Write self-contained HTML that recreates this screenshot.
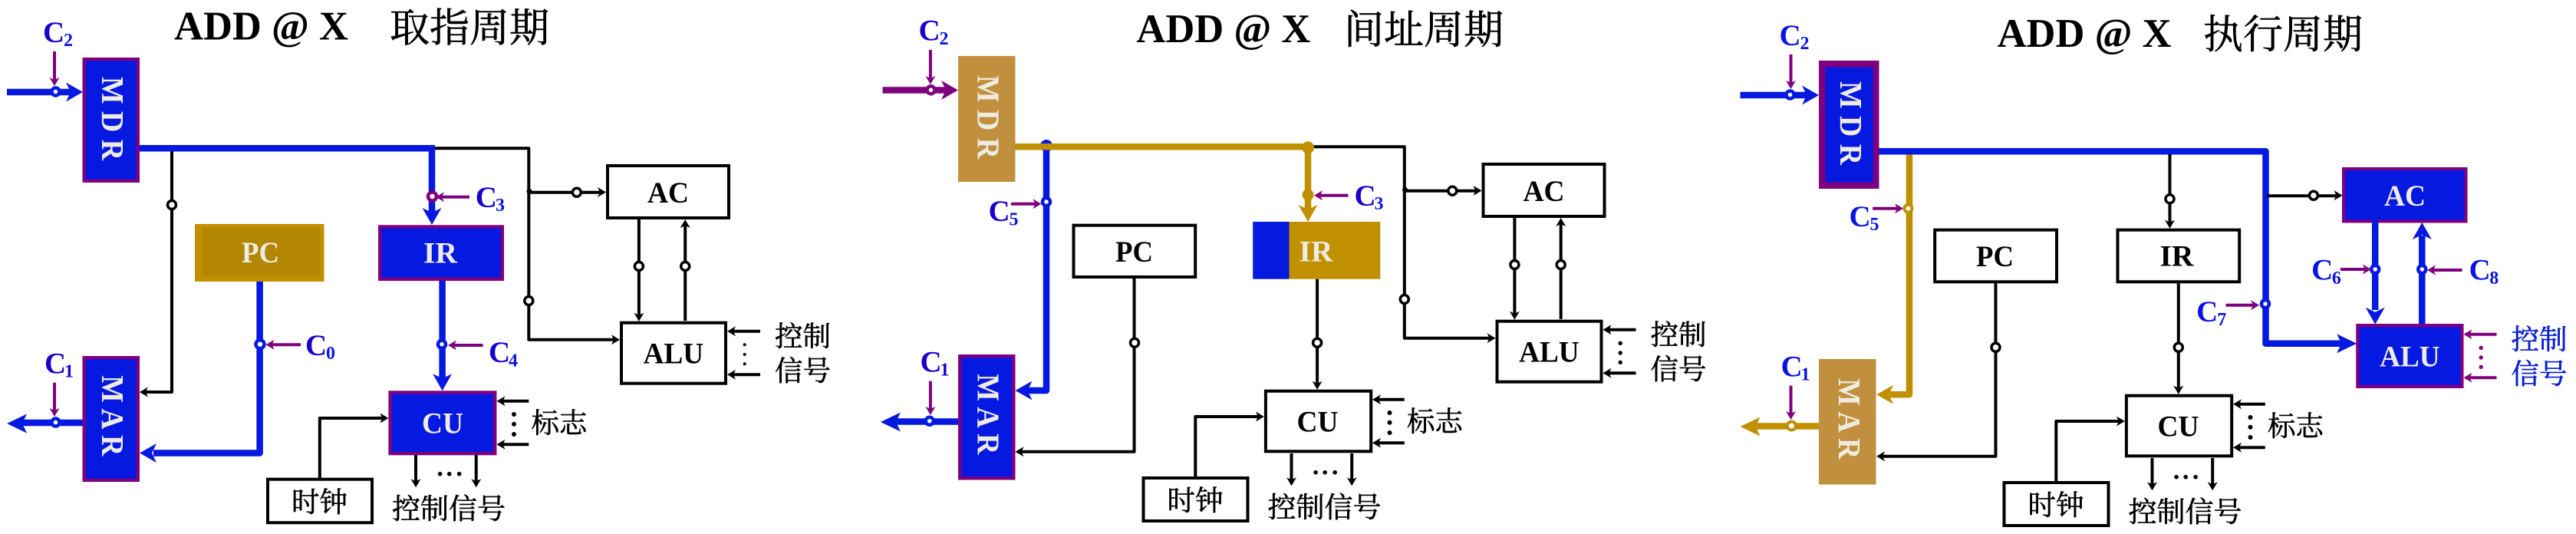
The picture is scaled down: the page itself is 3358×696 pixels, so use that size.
<!DOCTYPE html>
<html><head><meta charset="utf-8"><title>ADD @ X</title>
<style>
html,body{margin:0;padding:0;background:#fff}
svg{display:block}
.t{font-family:"Liberation Serif",serif;font-weight:bold}
.z{font-family:"Liberation Serif","Noto Serif CJK SC",serif;stroke:#000;stroke-width:.6}
.zb{stroke:#0a20d0}
.l{font-size:39px}.u{font-size:24px}
.w{fill:#eeece1}
.k{fill:none;stroke:#000;stroke-width:4;stroke-linejoin:round}
.b{fill:none;stroke:#0519e0;stroke-width:8.5;stroke-linejoin:round}
.g{fill:none;stroke:#c09000;stroke-width:8.5;stroke-linejoin:round}
.p{fill:none;stroke:#7f007f;stroke-width:4}
.m{fill:none;stroke:#7f007f;stroke-width:8.5}
.n{fill:#fff;stroke:#000;stroke-width:3.5}
.nb{fill:#fff;stroke:#0519e0;stroke-width:4.5}
.ng{fill:#fff;stroke:#c09000;stroke-width:4}
.np{fill:#fff;stroke:#7f007f;stroke-width:4.5}
.c1{fill:#1600cc}.c2{fill:#0a14e0}
</style></head><body>
<svg xmlns="http://www.w3.org/2000/svg" width="3358" height="696" viewBox="0 0 3358 696">
<defs>
<path id="s" d="M0,0 L-11,-6.5 L-8,0 L-11,6.5Z"/>
<path id="A" d="M0,0 L-22,-12.5 L-16,0 L-22,12.5Z"/>
<path id="B" d="M0,0 L-26,-12.5 L-20,0 L-26,12.5Z"/>
</defs>
<rect width="3358" height="696" fill="#fff"/>

<!-- titles -->
<text class="t" x="227" y="51.7" font-size="53" textLength="227" lengthAdjust="spacingAndGlyphs">ADD @ X</text>
<text class="z" x="508" y="54.5" font-size="52">取指周期</text>
<text class="t" x="1481.4" y="55" font-size="53" textLength="227" lengthAdjust="spacingAndGlyphs">ADD @ X</text>
<text class="z" x="1752" y="57" font-size="52">间址周期</text>
<text class="t" x="2603.6" y="61" font-size="53" textLength="227" lengthAdjust="spacingAndGlyphs">ADD @ X</text>
<text class="z" x="2872" y="63" font-size="52">执行周期</text>

<!-- PANEL 1 -->
<g>
<path class="b" d="M9,120H100"/>
<use href="#A" transform="translate(108,120)" fill="#0519e0"/>
<path class="b" d="M182,193.3H567"/>
<path class="k" d="M567,193.3H689.3V442.7H800"/>
<path class="k" d="M224,197V511H188"/>
<use href="#s" transform="translate(182,511) rotate(180)"/>
<circle class="n" cx="224" cy="267" r="5.5"/>
<path class="b" d="M563,193V280"/>
<use href="#A" transform="translate(563,293) rotate(90)" fill="#0519e0"/>
<circle class="np" cx="563.5" cy="256" r="5.5"/>
<path class="p" d="M612,256.7H574"/>
<use href="#s" transform="translate(568,256.7) rotate(180)" fill="#7f007f"/>
<!-- PC -->
<rect x="254" y="292" width="168.5" height="75" fill="#c09000"/>
<rect x="263.5" y="297" width="153.5" height="62" fill="#b38600"/>
<text class="t w" x="315" y="342" font-size="39" textLength="49" lengthAdjust="spacingAndGlyphs">PC</text>
<path class="b" d="M338.6,367V590.5H200"/>
<use href="#A" transform="translate(182,590.5) rotate(180)" fill="#0519e0"/>
<circle class="nb" cx="339" cy="448.7" r="5.5"/>
<path class="p" d="M392,449.3H352"/>
<use href="#s" transform="translate(346.5,449.3) rotate(180)" fill="#7f007f"/>
<!-- MDR MAR -->
<rect x="107.5" y="75" width="74.5" height="163" fill="#7f007f"/><rect x="112" y="79.3" width="65.5" height="154.4" fill="#0519e0"/>
<text class="t w" transform="translate(133,100) rotate(90)" font-size="41" textLength="109" lengthAdjust="spacingAndGlyphs">M D R</text>
<rect x="107.5" y="464" width="74.5" height="164" fill="#7f007f"/><rect x="112" y="468.3" width="65.5" height="155.4" fill="#0519e0"/>
<text class="t w" transform="translate(133,489.3) rotate(90)" font-size="41" textLength="105" lengthAdjust="spacingAndGlyphs">M A R</text>
<circle class="nb" cx="72.5" cy="119.5" r="5"/>
<path class="p" d="M71,67V106"/><use href="#s" transform="translate(71,112) rotate(90)" fill="#7f007f"/>
<path class="b" d="M108,551H28"/>
<use href="#B" transform="translate(9,552) rotate(180)" fill="#0519e0"/>
<circle class="nb" cx="72.5" cy="550.5" r="5"/>
<path class="p" d="M71,498.7V537"/><use href="#s" transform="translate(71,543) rotate(90)" fill="#7f007f"/>
<text class="t l c1" x="56" y="55">C</text><text class="t u c2" x="83" y="60">2</text>
<text class="t l c1" x="58" y="486.7">C</text><text class="t u c1" x="84" y="491.7">1</text>
<text class="t l c1" x="398" y="463">C</text><text class="t u c2" x="425" y="468">0</text>
<text class="t l c1" x="619.7" y="270">C</text><text class="t u c2" x="646" y="275">3</text>
<text class="t l c1" x="637" y="472">C</text><text class="t u c2" x="663" y="477.7">4</text>
<!-- IR -->
<rect x="493" y="293.3" width="164" height="72.7" fill="#7f007f"/><rect x="497.3" y="297.6" width="155.4" height="64" fill="#0519e0"/>
<text class="t w" x="552" y="342.7" font-size="39" textLength="44" lengthAdjust="spacingAndGlyphs">IR</text>
<path class="b" d="M576.6,366V495"/>
<circle class="nb" cx="576" cy="448.7" r="5"/>
<path class="p" d="M629.6,450H590"/>
<use href="#s" transform="translate(584,450) rotate(180)" fill="#7f007f"/>
<!-- CU -->
<rect x="506.4" y="509.3" width="141" height="84" fill="#7f007f"/><rect x="511" y="513.6" width="132" height="75.4" fill="#0519e0"/>
<use href="#A" transform="translate(576.6,509.3) rotate(90)" fill="#0519e0"/>
<text class="t w" x="550" y="564.5" font-size="39" textLength="54" lengthAdjust="spacingAndGlyphs">CU</text>
<path class="k" d="M416.8,623V545H500"/><use href="#s" transform="translate(506.4,545)"/>
<rect x="349" y="624.7" width="136" height="56.5" fill="#fff" stroke="#000" stroke-width="4"/>
<text class="z" x="380" y="667" font-size="36.5">时钟</text>
<path class="k" d="M689.3,522.7H652"/><use href="#s" transform="translate(647.5,522.7) rotate(180)"/>
<path class="k" d="M689.3,579.3H652"/><use href="#s" transform="translate(647.5,579.3) rotate(180)"/>
<circle cx="670" cy="540" r="3"/><circle cx="670" cy="552.7" r="3"/><circle cx="670" cy="566" r="3"/>
<text class="z" x="692.5" y="564" font-size="36.5">标志</text>
<path class="k" d="M542,593V630"/><use href="#s" transform="translate(542,635.3) rotate(90)"/>
<path class="k" d="M620.7,593V630"/><use href="#s" transform="translate(620.7,635.3) rotate(90)"/>
<circle cx="573.6" cy="617.7" r="2.8"/><circle cx="585.7" cy="617.7" r="2.8"/><circle cx="598.6" cy="617.7" r="2.8"/>
<text class="z" x="511" y="676" font-size="37">控制信号</text>
<!-- AC ALU -->
<circle cx="690" cy="249.3" r="3.5"/>
<path class="k" d="M690,250.7H785"/><use href="#s" transform="translate(790,250.5)"/>
<circle class="n" cx="751.8" cy="250.7" r="5.5"/>
<circle class="n" cx="689.3" cy="392" r="5.5"/>
<use href="#s" transform="translate(808,442.7)"/>
<rect x="792" y="216" width="158" height="68" fill="#fff" stroke="#000" stroke-width="4"/>
<text class="t" x="844" y="264" font-size="39" textLength="54" lengthAdjust="spacingAndGlyphs">AC</text>
<path class="k" d="M832.9,286V413"/><use href="#s" transform="translate(832.9,418.7) rotate(90)"/>
<path class="k" d="M893.2,418V292"/><use href="#s" transform="translate(893.2,286) rotate(-90)"/>
<circle class="n" cx="832.9" cy="347" r="5.5"/><circle class="n" cx="893.2" cy="347" r="5.5"/>
<rect x="810" y="420.7" width="136" height="79" fill="#fff" stroke="#000" stroke-width="4"/>
<text class="t" x="838.6" y="473.7" font-size="39" textLength="78.5" lengthAdjust="spacingAndGlyphs">ALU</text>
<path class="k" d="M991,431.7H953"/><use href="#s" transform="translate(948,431.7) rotate(180)"/>
<path class="k" d="M991,488.3H953"/><use href="#s" transform="translate(948,488.3) rotate(180)"/>
<circle cx="970.7" cy="449.3" r="2"/><circle cx="970.7" cy="462" r="2"/><circle cx="970.7" cy="474.3" r="2"/>
<text class="z" x="1010" y="451" font-size="36.5">控制</text>
<text class="z" x="1010" y="496" font-size="36.5">信号</text>
</g>

<!-- PANEL 2 -->
<g transform="translate(1141.5,-2)">
<path class="m" d="M9,119.5H100"/>
<use href="#A" transform="translate(107.5,119.5)" fill="#7f007f"/>
<path class="b" d="M222.5,196V511H196"/>
<circle cx="222.5" cy="192" r="8" fill="#0519e0"/>
<use href="#A" transform="translate(182,511) rotate(180)" fill="#0519e0"/>
<path class="g" d="M182,193.3H565"/>
<path class="k" d="M567,193.3H689.3V442.7H800"/>
<path class="g" d="M563.5,193V278"/>
<circle cx="563.5" cy="194.3" r="8" fill="#c09000"/>
<circle cx="563.5" cy="256" r="7.5" fill="#c09000"/>
<use href="#A" transform="translate(563.5,291) rotate(90)" fill="#c09000"/>
<path class="p" d="M616,256.7H578"/>
<use href="#s" transform="translate(571.5,256.7) rotate(180)" fill="#7f007f"/>
<circle class="nb" cx="222.5" cy="265" r="5"/>
<path class="p" d="M176.5,267.7H210"/><use href="#s" transform="translate(216,267.7)" fill="#7f007f"/>
<!-- PC -->
<rect x="258" y="295.7" width="158.7" height="67.3" fill="#fff" stroke="#000" stroke-width="4"/>
<text class="t" x="312.5" y="343" font-size="39" textLength="49" lengthAdjust="spacingAndGlyphs">PC</text>
<path class="k" d="M337,365V590.7H187"/>
<use href="#s" transform="translate(182,590.7) rotate(180)"/>
<circle class="n" cx="337.5" cy="448.7" r="5.5"/>
<!-- MDR MAR -->
<rect x="107.5" y="75" width="74.5" height="164" fill="#c1903e"/>
<text class="t w" transform="translate(133,100) rotate(90)" font-size="41" textLength="109" lengthAdjust="spacingAndGlyphs">M D R</text>
<rect x="107.5" y="464" width="74.5" height="163.5" fill="#7f007f"/><rect x="112" y="468.3" width="65.5" height="155" fill="#0519e0"/>
<text class="t w" transform="translate(133,489.3) rotate(90)" font-size="41" textLength="105" lengthAdjust="spacingAndGlyphs">M A R</text>
<circle class="np" cx="72" cy="119.3" r="5"/>
<path class="p" d="M71.4,67V106"/><use href="#s" transform="translate(71.4,112) rotate(90)" fill="#7f007f"/>
<path class="b" d="M107.5,551.5H26"/>
<use href="#B" transform="translate(6.4,552) rotate(180)" fill="#0519e0"/>
<circle class="nb" cx="70.3" cy="550.7" r="5"/>
<path class="p" d="M71.4,498.7V537"/><use href="#s" transform="translate(71.4,543) rotate(90)" fill="#7f007f"/>
<text class="t l c1" x="56" y="54.3">C</text><text class="t u c2" x="83" y="60">2</text>
<text class="t l c1" x="58" y="486.7">C</text><text class="t u c1" x="84" y="491.7">1</text>
<text class="t l c1" x="147" y="290">C</text><text class="t u c2" x="174" y="295.3">5</text>
<text class="t l c1" x="624" y="270">C</text><text class="t u c2" x="650" y="275">3</text>
<!-- IR -->
<rect x="491.7" y="291" width="47.3" height="74.7" fill="#0519e0"/>
<rect x="539" y="291" width="118.8" height="74.7" fill="#c09000"/>
<text class="t w" x="552" y="342.7" font-size="39" textLength="44" lengthAdjust="spacingAndGlyphs">IR</text>
<path class="k" d="M575.6,365.7V503"/>
<use href="#s" transform="translate(575.6,509.7) rotate(90)"/>
<circle class="n" cx="575.6" cy="448.7" r="5.5"/>
<!-- CU -->
<rect x="508.4" y="511.7" width="137.3" height="78.6" fill="#fff" stroke="#000" stroke-width="4"/>
<text class="t" x="549" y="564.7" font-size="39" textLength="54" lengthAdjust="spacingAndGlyphs">CU</text>
<path class="k" d="M416.8,623V545H500"/><use href="#s" transform="translate(506.4,545)"/>
<rect x="349" y="625" width="136" height="56" fill="#fff" stroke="#000" stroke-width="4"/>
<text class="z" x="380" y="667" font-size="36.5">时钟</text>
<path class="k" d="M689.3,522.7H652"/><use href="#s" transform="translate(647.5,522.7) rotate(180)"/>
<path class="k" d="M689.3,579.3H652"/><use href="#s" transform="translate(647.5,579.3) rotate(180)"/>
<circle cx="670" cy="540" r="3"/><circle cx="670" cy="552.7" r="3"/><circle cx="670" cy="566" r="3"/>
<text class="z" x="692.5" y="564" font-size="36.5">标志</text>
<path class="k" d="M542,593V630"/><use href="#s" transform="translate(542,635.3) rotate(90)"/>
<path class="k" d="M620.7,593V630"/><use href="#s" transform="translate(620.7,635.3) rotate(90)"/>
<circle cx="573.6" cy="617.7" r="2.8"/><circle cx="585.7" cy="617.7" r="2.8"/><circle cx="598.6" cy="617.7" r="2.8"/>
<text class="z" x="511" y="676" font-size="37">控制信号</text>
<!-- AC ALU -->
<circle cx="690" cy="249.3" r="3.5"/>
<path class="k" d="M690,250.7H785"/><use href="#s" transform="translate(790,250.5)"/>
<circle class="n" cx="751.8" cy="250.7" r="5.5"/>
<circle class="n" cx="689.3" cy="392" r="5.5"/>
<use href="#s" transform="translate(808,442.7)"/>
<rect x="792" y="216" width="158" height="68" fill="#fff" stroke="#000" stroke-width="4"/>
<text class="t" x="844" y="264" font-size="39" textLength="54" lengthAdjust="spacingAndGlyphs">AC</text>
<path class="k" d="M832.9,286V413"/><use href="#s" transform="translate(832.9,418.7) rotate(90)"/>
<path class="k" d="M893.2,418V292"/><use href="#s" transform="translate(893.2,286) rotate(-90)"/>
<circle class="n" cx="832.9" cy="347" r="5.5"/><circle class="n" cx="893.2" cy="347" r="5.5"/>
<rect x="810" y="420.7" width="136" height="79" fill="#fff" stroke="#000" stroke-width="4"/>
<text class="t" x="838.6" y="473.7" font-size="39" textLength="78.5" lengthAdjust="spacingAndGlyphs">ALU</text>
<path class="k" d="M991,431.7H953"/><use href="#s" transform="translate(948,431.7) rotate(180)"/>
<path class="k" d="M991,488.3H953"/><use href="#s" transform="translate(948,488.3) rotate(180)"/>
<circle cx="970.7" cy="449.3" r="2.7"/><circle cx="970.7" cy="462" r="2.7"/><circle cx="970.7" cy="474.3" r="2.7"/>
<text class="z" x="1010" y="451" font-size="36.5">控制</text>
<text class="z" x="1010" y="496" font-size="36.5">信号</text>
</g>

<!-- PANEL 3 -->
<g transform="translate(2263.5,4)">
<path class="b" d="M5,120H100"/>
<use href="#A" transform="translate(107.6,120)" fill="#0519e0"/>
<path class="g" d="M225.5,193V510.3H196"/>
<use href="#A" transform="translate(182.6,510.3) rotate(180)" fill="#c09000"/>
<path class="b" d="M182,193.3H690V443.7H790"/>
<use href="#B" transform="translate(808.7,443.7)" fill="#0519e0"/>
<circle class="ng" cx="224" cy="267.7" r="5"/>
<path class="p" d="M177.6,267.7H211"/><use href="#s" transform="translate(217.6,267.7)" fill="#7f007f"/>
<path class="k" d="M565,197V288"/><use href="#s" transform="translate(565,293.7) rotate(90)"/>
<circle class="n" cx="565" cy="255.3" r="5.5"/>
<circle class="nb" cx="689.5" cy="392" r="5"/>
<path class="p" d="M638,393.7H675"/><use href="#s" transform="translate(681.6,393.7)" fill="#7f007f"/>
<!-- PC -->
<rect x="258.7" y="295.7" width="158.8" height="67.6" fill="#fff" stroke="#000" stroke-width="4"/>
<text class="t" x="312.5" y="343" font-size="39" textLength="49" lengthAdjust="spacingAndGlyphs">PC</text>
<path class="k" d="M338,365V590.7H187"/>
<use href="#s" transform="translate(182.6,590.7) rotate(180)"/>
<circle class="n" cx="338" cy="448.7" r="5.5"/>
<!-- MDR MAR -->
<rect x="107.5" y="75" width="78.5" height="167" fill="#7f007f"/>
<rect x="115.8" y="83.7" width="62.5" height="150" fill="#0519e0"/>
<text class="t w" transform="translate(135.5,102) rotate(90)" font-size="41" textLength="109" lengthAdjust="spacingAndGlyphs">M D R</text>
<rect x="107.5" y="464" width="74.5" height="163.5" fill="#c1903e"/>
<text class="t w" transform="translate(133.6,489.3) rotate(90)" font-size="41" textLength="105" lengthAdjust="spacingAndGlyphs">M A R</text>
<circle class="nb" cx="70" cy="119.5" r="5"/>
<path class="p" d="M71,67V106"/><use href="#s" transform="translate(71,112) rotate(90)" fill="#7f007f"/>
<path class="g" d="M107.5,551.5H25"/>
<use href="#B" transform="translate(5,552) rotate(180)" fill="#c09000"/>
<circle class="ng" cx="71.9" cy="551" r="5.5"/>
<path class="p" d="M71,498.7V537"/><use href="#s" transform="translate(71,543) rotate(90)" fill="#7f007f"/>
<text class="t l c2" x="56" y="55">C</text><text class="t u c2" x="83" y="60">2</text>
<text class="t l c2" x="58" y="486.7">C</text><text class="t u c2" x="84" y="491.7">1</text>
<text class="t l c2" x="147" y="291">C</text><text class="t u c2" x="174" y="296">5</text>
<text class="t l c2" x="599.6" y="415">C</text><text class="t u c2" x="626.7" y="420">7</text>
<text class="t l c2" x="749.6" y="360.3">C</text><text class="t u c2" x="776.4" y="366">6</text>
<text class="t l c2" x="955" y="360.3">C</text><text class="t u c2" x="981.7" y="366">8</text>
<!-- IR -->
<rect x="497" y="295.7" width="158.7" height="67.6" fill="#fff" stroke="#000" stroke-width="4"/>
<text class="t" x="552" y="342.7" font-size="39" textLength="44" lengthAdjust="spacingAndGlyphs">IR</text>
<path class="k" d="M576.3,365.3V503"/>
<use href="#s" transform="translate(576.3,509.7) rotate(90)"/>
<circle class="n" cx="576.3" cy="448.7" r="5.5"/>
<!-- CU -->
<rect x="508.4" y="511.7" width="137.3" height="78.6" fill="#fff" stroke="#000" stroke-width="4"/>
<text class="t" x="549" y="564.7" font-size="39" textLength="54" lengthAdjust="spacingAndGlyphs">CU</text>
<path class="k" d="M416.8,623V545H500"/><use href="#s" transform="translate(506.4,545)"/>
<rect x="349" y="625" width="136" height="56" fill="#fff" stroke="#000" stroke-width="4"/>
<text class="z" x="380" y="667" font-size="36.5">时钟</text>
<path class="k" d="M689.3,522.7H652"/><use href="#s" transform="translate(647.5,522.7) rotate(180)"/>
<path class="k" d="M689.3,579.3H652"/><use href="#s" transform="translate(647.5,579.3) rotate(180)"/>
<circle cx="670" cy="540" r="3"/><circle cx="670" cy="552.7" r="3"/><circle cx="670" cy="566" r="3"/>
<text class="z" x="692.5" y="564" font-size="36.5">标志</text>
<path class="k" d="M542,593V630"/><use href="#s" transform="translate(542,635.3) rotate(90)"/>
<path class="k" d="M620.7,593V630"/><use href="#s" transform="translate(620.7,635.3) rotate(90)"/>
<circle cx="573.6" cy="617.7" r="2.8"/><circle cx="585.7" cy="617.7" r="2.8"/><circle cx="598.6" cy="617.7" r="2.8"/>
<text class="z" x="511" y="676" font-size="37">控制信号</text>
<!-- AC ALU -->
<path class="k" d="M692,251.3H785"/><use href="#s" transform="translate(790,250.7)"/>
<circle class="n" cx="752.4" cy="250.7" r="5.5"/>
<rect x="789.5" y="214" width="163.5" height="72.5" fill="#7f007f"/><rect x="793.7" y="218" width="155" height="64.5" fill="#0519e0"/>
<text class="t w" x="844.5" y="264" font-size="39" textLength="54" lengthAdjust="spacingAndGlyphs">AC</text>
<path class="b" d="M832.7,283V400"/><use href="#A" transform="translate(832.7,418.7) rotate(90)" fill="#0519e0"/>
<path class="b" d="M893.8,420V303"/><use href="#A" transform="translate(893.8,286) rotate(-90)" fill="#0519e0"/>
<circle class="nb" cx="832.7" cy="347" r="5"/><circle class="nb" cx="893.8" cy="347" r="5"/>
<path class="p" d="M787.4,347H821"/><use href="#s" transform="translate(827.4,347)" fill="#7f007f"/>
<path class="p" d="M946,348H907"/><use href="#s" transform="translate(900.6,348) rotate(180)" fill="#7f007f"/>
<rect x="807.7" y="418" width="140.3" height="84" fill="#7f007f"/><rect x="812" y="422.3" width="131.7" height="75.4" fill="#0519e0"/>
<text class="t w" x="838.6" y="473.7" font-size="39" textLength="78.5" lengthAdjust="spacingAndGlyphs">ALU</text>
<path class="p" d="M991,431.7H953"/><use href="#s" transform="translate(948,431.7) rotate(180)" fill="#7f007f"/>
<path class="p" d="M991,488.3H953"/><use href="#s" transform="translate(948,488.3) rotate(180)" fill="#7f007f"/>
<circle cx="970.7" cy="449.3" r="2.7" fill="#7f007f"/><circle cx="970.7" cy="462" r="2.7" fill="#7f007f"/><circle cx="970.7" cy="474.3" r="2.7" fill="#7f007f"/>
<text class="z zb" x="1010" y="451" font-size="36.5" fill="#0a20d0">控制</text>
<text class="z zb" x="1010" y="496" font-size="36.5" fill="#0a20d0">信号</text>
</g>
</svg>
</body></html>
